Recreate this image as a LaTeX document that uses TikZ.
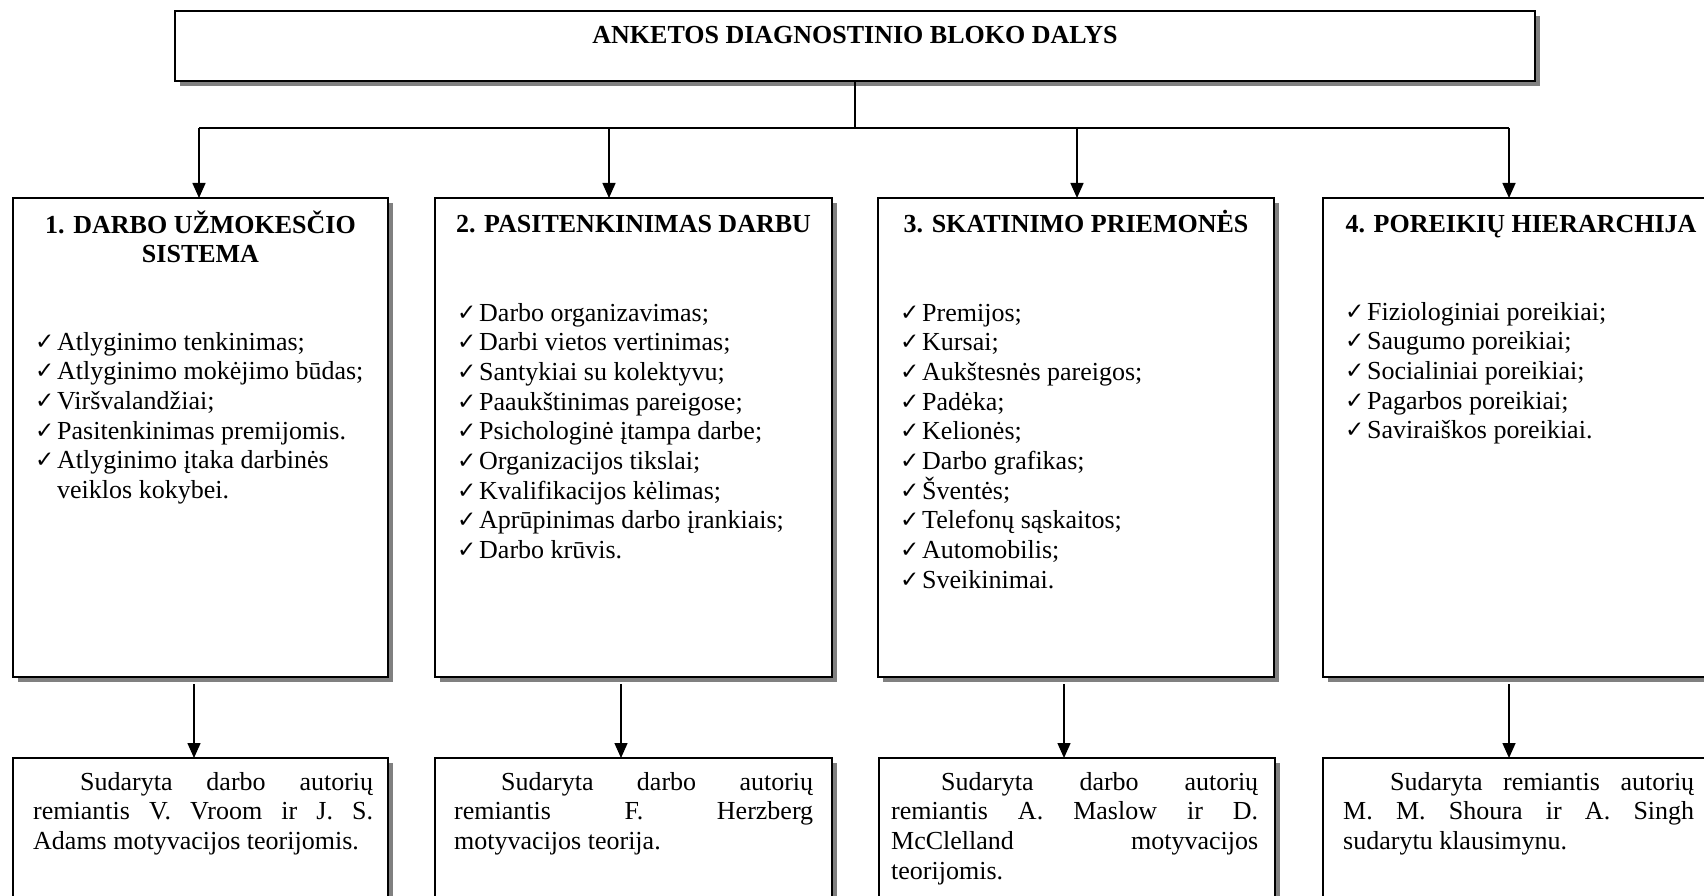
\documentclass[tikz,border=0pt]{standalone}
\usepackage{fontspec}
\setmainfont{Liberation Serif}
\newfontfamily\dejavu{DejaVu Sans}
\usetikzlibrary{shadows,arrows.meta}
\newcommand{\chk}{\makebox[22pt][l]{\raisebox{1pt}{\dejavu\fontsize{23}{23}\selectfont ✓}}}
\newcommand{\ind}{\hspace*{22pt}}

\begin{document}
\begin{tikzpicture}[x=1pt,y=-1pt,
  box/.style={draw=black, line width=2pt, fill=white, inner sep=0pt, outer sep=0pt,
    anchor=north west,
    drop shadow={shadow xshift=5pt, shadow yshift=-5pt, fill=black!50, opacity=1}},
  conn/.style={line width=1.5pt},
  arr/.style={conn, -{Triangle[length=15pt,width=13pt]}},
  ttl/.style={font=\bfseries\fontsize{26}{29.7}\selectfont, anchor=base, inner sep=0pt},
  txt/.style={font=\fontsize{26}{29.7}\selectfont, anchor=base west, inner sep=0pt},
]
\useasboundingbox (0,0) rectangle (1704,896);
\clip (0,0) rectangle (1704,896);

% top box
\node[box, minimum width=1360pt, minimum height=70pt] (top) at (175,11) {};
\node[ttl] (toptitle) at (855,44) {ANKETOS DIAGNOSTINIO BLOKO DALYS};

% first row boxes
\node[box, minimum width=375pt, minimum height=479pt] (b1) at (13,198) {};
\node[box, minimum width=397pt, minimum height=479pt] (b2) at (435,198) {};
\node[box, minimum width=396pt, minimum height=479pt] (b3) at (878,198) {};
\node[box, minimum width=396pt, minimum height=479pt] (b4) at (1323,198) {};

% second row boxes
\node[box, minimum width=375pt, minimum height=220pt] (c1) at (13,758) {};
\node[box, minimum width=397pt, minimum height=220pt] (c2) at (435,758) {};
\node[box, minimum width=396pt, minimum height=220pt] (c3) at (879,758) {};
\node[box, minimum width=396pt, minimum height=220pt] (c4) at (1323,758) {};

% connectors top
\coordinate (j) at (855,128);
\coordinate (p1) at (199,128);
\coordinate (p2) at (609,128);
\coordinate (p3) at (1077,128);
\coordinate (p4) at (1509,128);
\draw[conn] (top.south -| j) -- (j);
\draw[conn] (p1) -- (p4);
\draw[arr] (p1) -- (p1 |- b1.north);
\draw[arr] (p2) -- (p2 |- b2.north);
\draw[arr] (p3) -- (p3 |- b3.north);
\draw[arr] (p4) -- (p4 |- b4.north);

% connectors bottom
\coordinate (q1) at (194,684);
\coordinate (q2) at (621,684);
\coordinate (q3) at (1064,684);
\coordinate (q4) at (1509,684);
\draw[arr] (q1) -- (q1 |- c1.north);
\draw[arr] (q2) -- (q2 |- c2.north);
\draw[arr] (q3) -- (q3 |- c3.north);
\draw[arr] (q4) -- (q4 |- c4.north);

% titles
\node[ttl] (t1) at (200.5,233) {\parbox[t]{375pt}{\centering 1. DARBO UŽMOKESČIO\\SISTEMA}};
\node[ttl] (t2) at (633.5,232) {2. PASITENKINIMAS DARBU};
\node[ttl] (t3) at (1076,232) {3. SKATINIMO PRIEMONĖS};
\node[ttl] (t4) at (1521,232) {4. POREIKIŲ HIERARCHIJA};

% lists
\node[txt] (l1) at (35,350) {\parbox[t]{360pt}{%
\chk Atlyginimo tenkinimas;\\
\chk Atlyginimo mokėjimo būdas;\\
\chk Viršvalandžiai;\\
\chk Pasitenkinimas premijomis.\\
\chk Atlyginimo įtaka darbinės\\
\ind veiklos kokybei.}};

\node[txt] (l2) at (457,321) {\parbox[t]{380pt}{%
\chk Darbo organizavimas;\\
\chk Darbi vietos vertinimas;\\
\chk Santykiai su kolektyvu;\\
\chk Paaukštinimas pareigose;\\
\chk Psichologinė įtampa darbe;\\
\chk Organizacijos tikslai;\\
\chk Kvalifikacijos kėlimas;\\
\chk Aprūpinimas darbo įrankiais;\\
\chk Darbo krūvis.}};

\node[txt] (l3) at (900,321) {\parbox[t]{380pt}{%
\chk Premijos;\\
\chk Kursai;\\
\chk Aukštesnės pareigos;\\
\chk Padėka;\\
\chk Kelionės;\\
\chk Darbo grafikas;\\
\chk Šventės;\\
\chk Telefonų sąskaitos;\\
\chk Automobilis;\\
\chk Sveikinimai.}};

\node[txt] (l4) at (1345,320) {\parbox[t]{380pt}{%
\chk Fiziologiniai poreikiai;\\
\chk Saugumo poreikiai;\\
\chk Socialiniai poreikiai;\\
\chk Pagarbos poreikiai;\\
\chk Saviraiškos poreikiai.}};

% bottom paragraphs
\node[txt] (s1) at (33,790) {\parbox[t]{340pt}{%
\hbox to 340pt{\hspace*{47pt}Sudaryta\hfill darbo\hfill autorių}%
\hbox to 340pt{remiantis\hfill V.\hfill Vroom\hfill ir\hfill J.\hfill S.}%
\hbox{Adams motyvacijos teorijomis.}}};

\node[txt] (s2) at (454,790) {\parbox[t]{359pt}{%
\hbox to 359pt{\hspace*{47pt}Sudaryta\hfill darbo\hfill autorių}%
\hbox to 359pt{remiantis\hfill F.\hfill Herzberg}%
\hbox{motyvacijos teorija.}}};

\node[txt] (s3) at (891,790) {\parbox[t]{367pt}{%
\hbox to 367pt{\hspace*{50pt}Sudaryta\hfill darbo\hfill autorių}%
\hbox to 367pt{remiantis\hfill A.\hfill Maslow\hfill ir\hfill D.}%
\hbox to 367pt{McClelland\hfill motyvacijos}%
\hbox{teorijomis.}}};

\node[txt] (s4) at (1343,790) {\parbox[t]{351pt}{%
\hbox to 351pt{\hspace*{47pt}Sudaryta\hfill remiantis\hfill autorių}%
\hbox to 351pt{M.\hfill M.\hfill Shoura\hfill ir\hfill A.\hfill Singh}%
\hbox{sudarytu klausimynu.}}};
\end{tikzpicture}
\end{document}
